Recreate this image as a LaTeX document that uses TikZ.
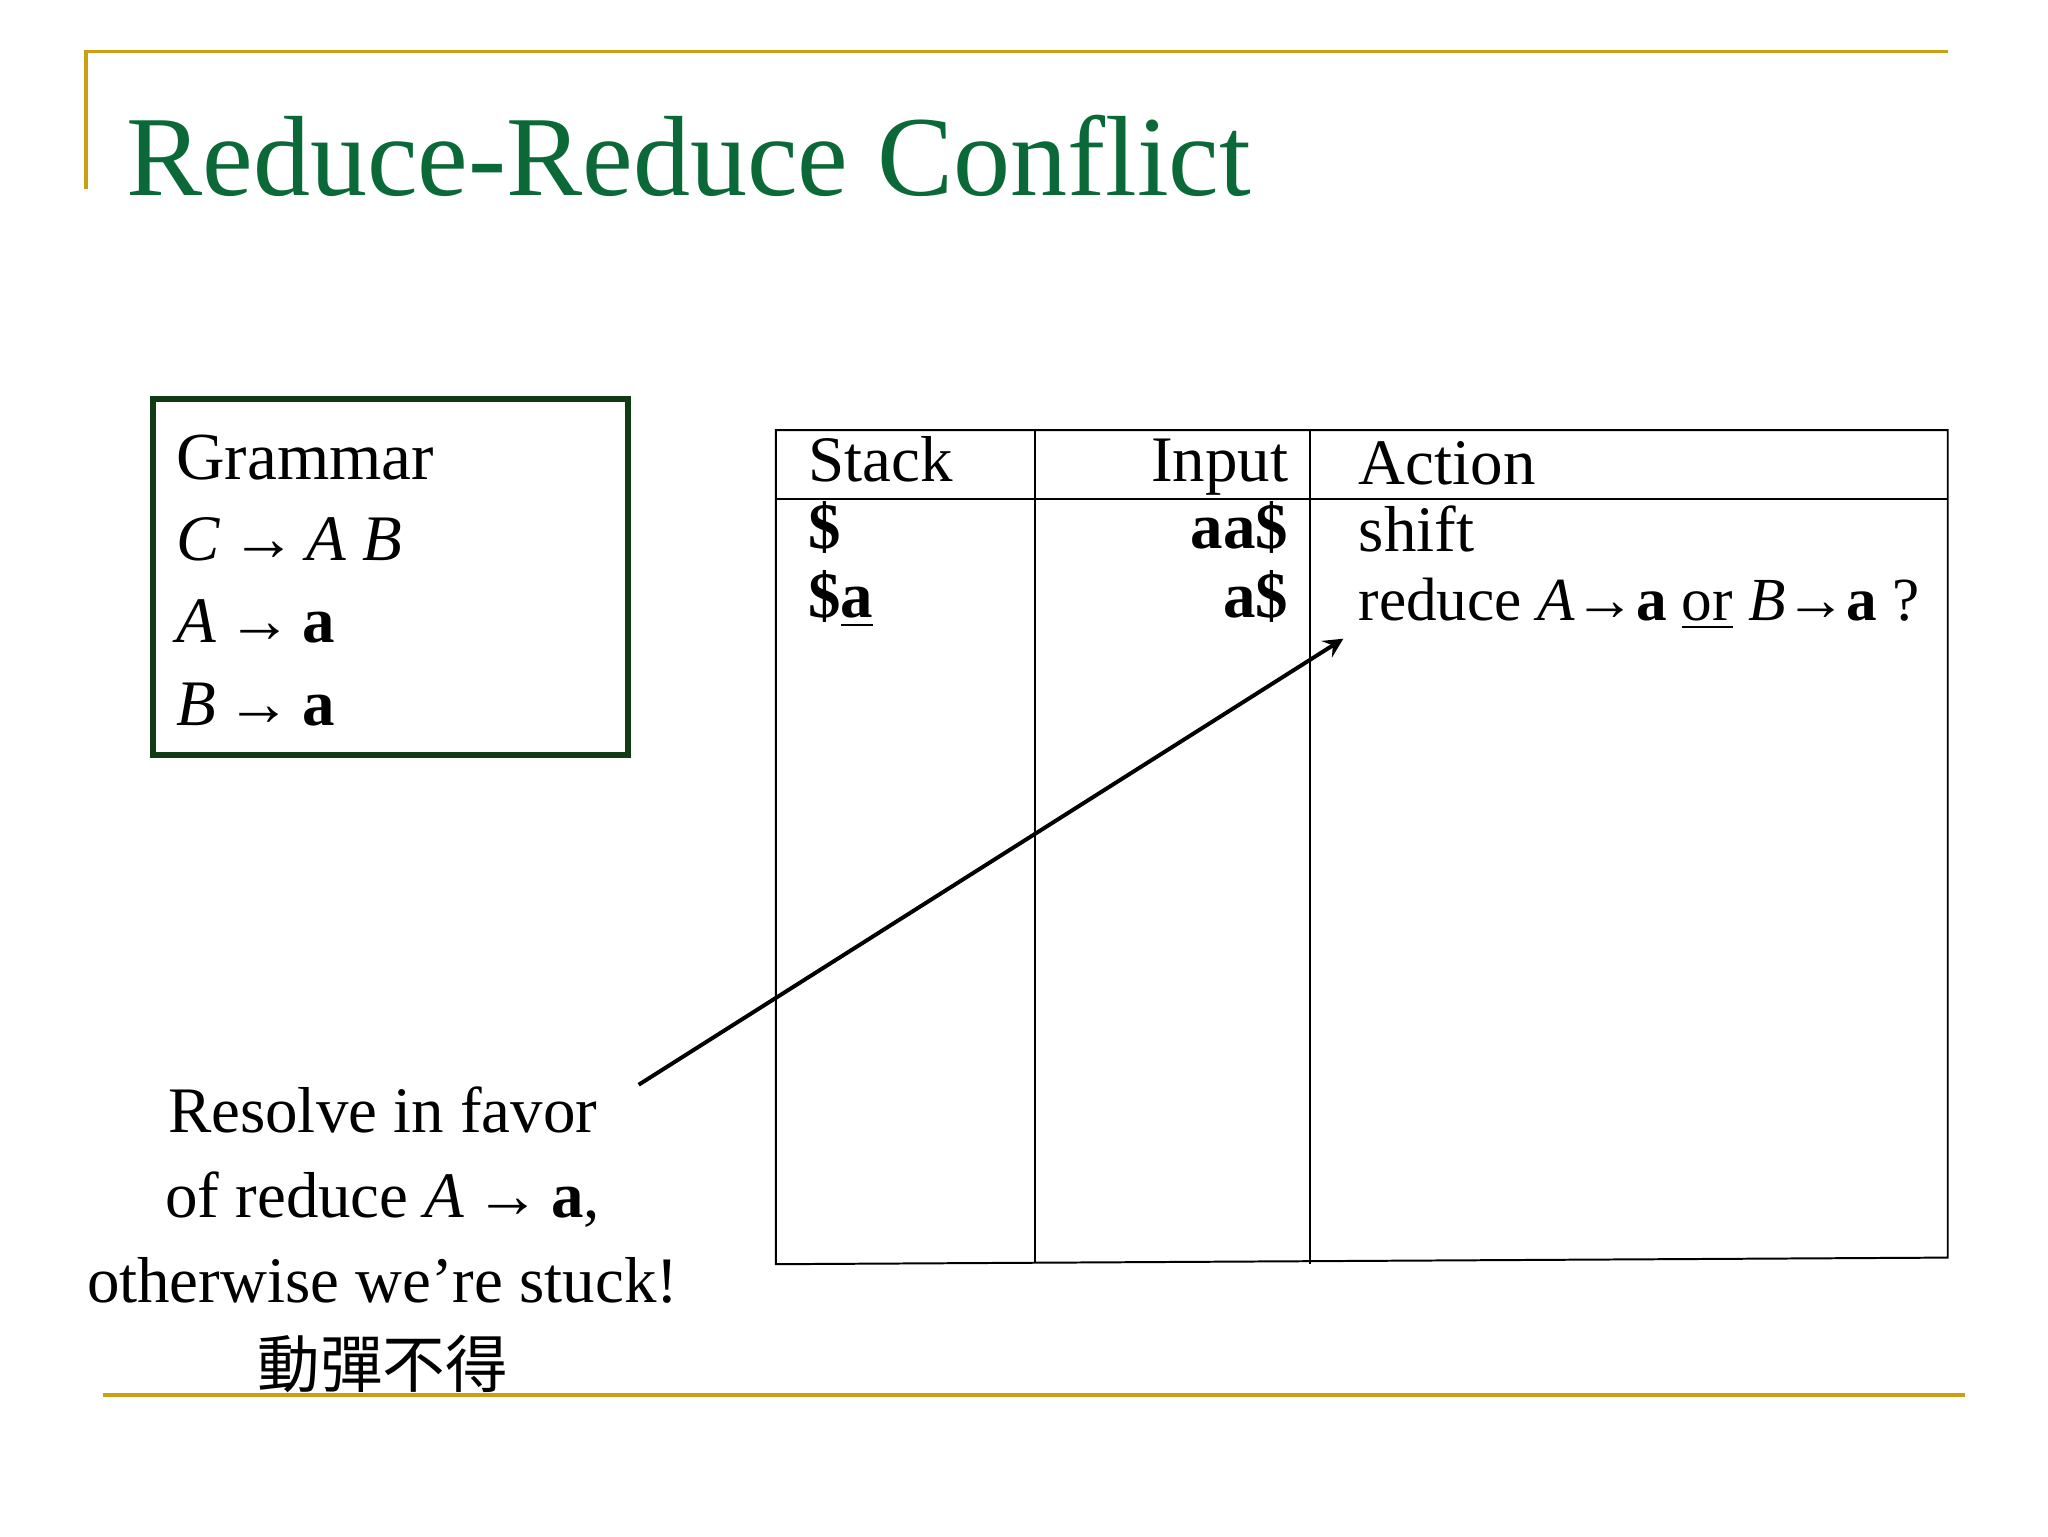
\documentclass[tikz,border=0pt]{standalone}
\usepackage{fontspec}
\setmainfont{Liberation Serif}
\newfontfamily\cjk{Noto Sans CJK TC}
\newcommand{\ar}{\,→\,}
\definecolor{gold}{RGB}{204,158,20}
\definecolor{ttl}{RGB}{10,105,55}
\definecolor{boxg}{RGB}{15,60,20}
\tikzset{txt/.style={inner sep=0pt,anchor=base west,font=\fontsize{14}{16}\selectfont}}
\begin{document}
\begin{tikzpicture}[x=0.1mm,y=-0.1mm]
\useasboundingbox (0,0) rectangle (1552,1164);
\draw[gold,line width=0.3mm] (65,143) -- (65,39) -- (1476,39);
\draw[gold,line width=0.3mm] (78,1057) -- (1489,1057);
\node[inner sep=0pt,anchor=base west,text=ttl,font=\fontsize{24.6}{28}\selectfont] (title) at (95,148) {Reduce-Reduce Conflict};
% grammar box
\draw[boxg,line width=0.45mm] (116,302) rectangle (476,572);
\node[txt,font=\fontsize{14.5}{16}\selectfont] (g0) at (133,363) {Grammar};
\node[txt] (g1) at (133,425) {\textit{C}\ar\textit{A B}};
\node[txt] (g2) at (133,487) {\textit{A}\ar\textbf{a}};
\node[txt] (g3) at (133,550) {\textit{B}\ar\textbf{a}};
% table
\draw[line width=0.15mm] (588,326) -- (1476,326) -- (1476,953) -- (588,958) -- cycle;
\draw[line width=0.15mm] (588,378) -- (1476,378);
\draw[line width=0.15mm] (784,326) -- (784,957);
\draw[line width=0.15mm] (993,326) -- (993,958);
\node[txt] (hs) at (612,365) {Stack};
\node[txt,anchor=base east] (hi) at (977,365) {Input};
\node[txt] (ha) at (1029,367) {Action};
\node[txt] (s1) at (612,416) {\textbf{\$}};
\node[txt] (s2) at (612,468) {\textbf{\$\underline{a}}};
\node[txt,anchor=base east] (i1) at (977,416) {\textbf{aa\$}};
\node[txt,anchor=base east] (i2) at (977,468) {\textbf{a\$}};
\node[txt] (a1) at (1029,418) {shift};
\node[txt,font=\fontsize{13.2}{15}\selectfont] (a2) at (1029,470) {reduce \textit{A}→\textbf{a} \underline{or} \textit{B}→\textbf{a} ?};
% note
\node[align=center,inner sep=0pt,anchor=north,font=\fontsize{14}{18.3}\selectfont] (note) at (290,823) {Resolve in favor\\of reduce \textit{A}\ar\textbf{a},\\otherwise we’re stuck!\\{\cjk\fontsize{13.5}{15}\selectfont 動彈不得}};
\coordinate (s) at (484,822);
\coordinate (e) at (1018,484);
\draw[line width=0.3mm,-stealth] (s) -- (e);
\end{tikzpicture}
\end{document}
